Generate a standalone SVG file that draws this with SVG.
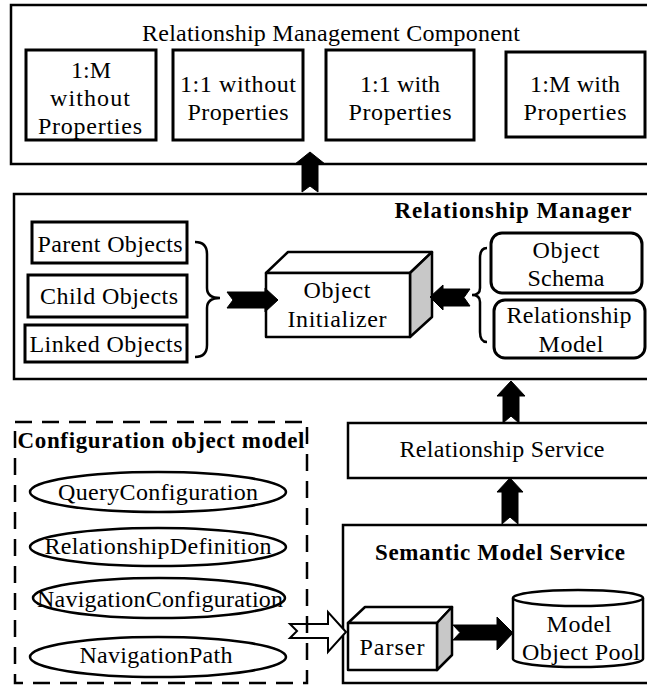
<svg xmlns="http://www.w3.org/2000/svg" width="647" height="685" viewBox="0 0 647 685">
  <style>
    text { font-family: "Liberation Serif", "DejaVu Serif", serif; font-size: 24px; fill: #000; text-anchor: middle; }
    .b { font-weight: bold; font-size: 23px; }
    .frame { fill: #fff; stroke: #000; stroke-width: 2.5; }
    .box { fill: #fff; stroke: #000; stroke-width: 3; }
    .face { fill: #fff; stroke: #000; stroke-width: 2.5; stroke-linejoin: round; }
    .side { fill: #c8c8c8; stroke: #000; stroke-width: 2.5; stroke-linejoin: round; }
    .brace { fill: none; stroke: #000; stroke-width: 2.5; }
    .solid { fill: #000; stroke: #000; stroke-width: 1; stroke-linejoin: miter; }
    .hollow { fill: #fff; stroke: #000; stroke-width: 2; stroke-linejoin: miter; }
    .dashed { fill: none; stroke: #000; stroke-width: 2.5; stroke-dasharray: 17 10; }
    .oval { fill: #fff; stroke: #000; stroke-width: 2.5; }
  </style>
  <rect width="647" height="685" fill="#fff"/>

  <!-- Relationship Management Component -->
  <g id="rel-mgmt-component">
    <rect class="frame" x="11" y="5" width="640" height="159"/>
    <text x="331" y="41" textLength="378" lengthAdjust="spacing">Relationship Management Component</text>
    <g id="one-many-no-props">
      <rect class="box" x="26" y="50" width="130" height="90"/>
      <text x="91" y="78" textLength="40" lengthAdjust="spacing">1:M</text>
      <text x="90" y="106" textLength="80" lengthAdjust="spacing">without</text>
      <text x="90" y="134" textLength="104" lengthAdjust="spacing">Properties</text>
    </g>
    <g id="one-one-no-props">
      <rect class="box" x="173" y="50" width="130" height="90"/>
      <text x="238" y="92" textLength="116" lengthAdjust="spacing">1:1 without</text>
      <text x="238" y="120" textLength="101" lengthAdjust="spacing">Properties</text>
    </g>
    <g id="one-one-props">
      <rect class="box" x="326" y="50" width="148" height="90"/>
      <text x="400" y="92" textLength="80" lengthAdjust="spacing">1:1 with</text>
      <text x="400" y="120" textLength="103" lengthAdjust="spacing">Properties</text>
    </g>
    <g id="one-many-props">
      <rect class="box" x="506" y="52" width="139" height="85"/>
      <text x="575" y="92" textLength="90" lengthAdjust="spacing">1:M with</text>
      <text x="575" y="120" textLength="103" lengthAdjust="spacing">Properties</text>
    </g>
  </g>

  <!-- Relationship Manager -->
  <g id="relationship-manager">
    <rect class="frame" x="14" y="194" width="640" height="185"/>
    <text class="b" x="513" y="218" textLength="237" lengthAdjust="spacing">Relationship Manager</text>
    <g id="parent-objects">
      <rect class="box" x="32" y="222" width="155" height="41"/>
      <text x="110" y="252" textLength="145" lengthAdjust="spacing">Parent Objects</text>
    </g>
    <g id="child-objects">
      <rect class="box" x="28" y="275" width="159" height="42"/>
      <text x="109" y="304" textLength="138" lengthAdjust="spacing">Child Objects</text>
    </g>
    <g id="linked-objects">
      <rect class="box" x="25" y="325" width="162" height="37"/>
      <text x="106" y="352" textLength="153" lengthAdjust="spacing">Linked Objects</text>
    </g>
    <g id="object-initializer">
      <polygon class="face" points="266,273 288,252 432,252 410,273"/>
      <polygon class="side" points="410,273 432,252 432,317 410,337"/>
      <rect class="face" x="266" y="273" width="144" height="64"/>
      <text x="337" y="298" textLength="67" lengthAdjust="spacing">Object</text>
      <text x="337" y="327" textLength="99" lengthAdjust="spacing">Initializer</text>
    </g>
    <g id="object-schema">
      <rect class="box" x="491" y="233" width="151" height="60" rx="11"/>
      <text x="566" y="258" textLength="67" lengthAdjust="spacing">Object</text>
      <text x="566" y="286" textLength="77" lengthAdjust="spacing">Schema</text>
    </g>
    <g id="relationship-model">
      <rect class="box" x="494" y="300" width="151" height="58" rx="11"/>
      <text x="569" y="323" textLength="125" lengthAdjust="spacing">Relationship</text>
      <text x="571" y="352" textLength="65" lengthAdjust="spacing">Model</text>
    </g>
  </g>

  <!-- Relationship Service -->
  <g id="relationship-service">
    <rect class="frame" x="348" y="423" width="305" height="55"/>
    <text x="502" y="457" textLength="205" lengthAdjust="spacing">Relationship Service</text>
  </g>

  <!-- Semantic Model Service -->
  <g id="semantic-model-service">
    <rect class="frame" x="343" y="525" width="310" height="158"/>
    <text class="b" x="500" y="560" textLength="250" lengthAdjust="spacing">Semantic Model Service</text>
    <g id="parser">
      <polygon class="face" points="348,623 365,607 452,607 437,623"/>
      <polygon class="side" points="437,623 452,607 452,655 437,670"/>
      <rect class="face" x="348" y="623" width="89" height="47"/>
      <text x="392" y="655" textLength="65" lengthAdjust="spacing">Parser</text>
    </g>
    <g id="model-object-pool">
      <path class="face" d="M513,598 L513,659 A65,8 0 0 0 643,659 L643,598 A65,8 0 0 0 513,598 Z"/>
      <path class="face" d="M513,598 A65,8 0 0 0 643,598" fill="none"/>
      <text x="579" y="632" textLength="65" lengthAdjust="spacing">Model</text>
      <text x="581" y="660" textLength="118" lengthAdjust="spacing">Object Pool</text>
    </g>
  </g>

  <!-- Connectors -->
  <g id="connectors">
    <!-- Relationship Manager up to component -->
    <path class="solid" d="M310,152 L325,164 L318,164 L318,192 L310,186 L302,192 L302,164 L295,164 Z"/>
    <!-- Relationship Service up to manager -->
    <path class="solid" d="M511,381 L525,396 L519,396 L519,423 L511,416 L503,423 L503,396 L497,396 Z"/>
    <!-- Semantic Model Service up to Relationship Service -->
    <path class="solid" d="M510,478 L523,492 L518,492 L518,524 L510,517 L502,524 L502,492 L497,492 Z"/>
    <!-- object sets into initializer -->
    <path class="solid" d="M278,300 L265,288 L265,292 L227,292 L233,300 L227,308 L265,308 L265,312 Z"/>
    <!-- schema and model into initializer -->
    <path class="solid" d="M430,297 L443,285 L443,289 L470,289 L464,297.5 L470,306 L443,306 L443,310 Z"/>
    <!-- parser into model object pool -->
    <path class="solid" d="M513,633 L497,617 L497,625 L453,625 L460,632.5 L453,640 L497,640 L497,650 Z"/>
    <!-- configuration model into parser -->
    <path class="hollow" d="M346,632 L328,612 L328,624 L290,624 L297,631 L290,638 L328,638 L328,652 Z"/>
    <!-- braces -->
    <path class="brace" d="M195,242 Q207,242 207,254 L207,288 Q207,298 220,298 Q207,298 207,308 L207,345 Q207,357 195,357"/>
    <path class="brace" d="M487,248 Q480,248 480,258 L480,288 Q480,295 472,295 Q480,295 480,302 L480,332 Q480,342 487,342"/>
  </g>

  <!-- Configuration object model -->
  <g id="configuration-object-model">
    <rect class="dashed" x="15" y="422" width="292" height="261"/>
    <text class="b" x="161" y="448" textLength="287" lengthAdjust="spacing">Configuration object model</text>
    <g id="query-configuration">
      <ellipse class="oval" cx="158" cy="492" rx="128" ry="20"/>
      <text x="158" y="500" textLength="200" lengthAdjust="spacing">QueryConfiguration</text>
    </g>
    <g id="relationship-definition">
      <ellipse class="oval" cx="158" cy="547" rx="128" ry="19"/>
      <text x="158" y="554" textLength="227" lengthAdjust="spacing">RelationshipDefinition</text>
    </g>
    <g id="navigation-configuration">
      <ellipse class="oval" cx="159" cy="598" rx="126" ry="20"/>
      <text x="160" y="607" textLength="246" lengthAdjust="spacing">NavigationConfiguration</text>
    </g>
    <g id="navigation-path">
      <ellipse class="oval" cx="158" cy="657" rx="128" ry="20"/>
      <text x="156" y="663" textLength="153" lengthAdjust="spacing">NavigationPath</text>
    </g>
  </g>
</svg>
